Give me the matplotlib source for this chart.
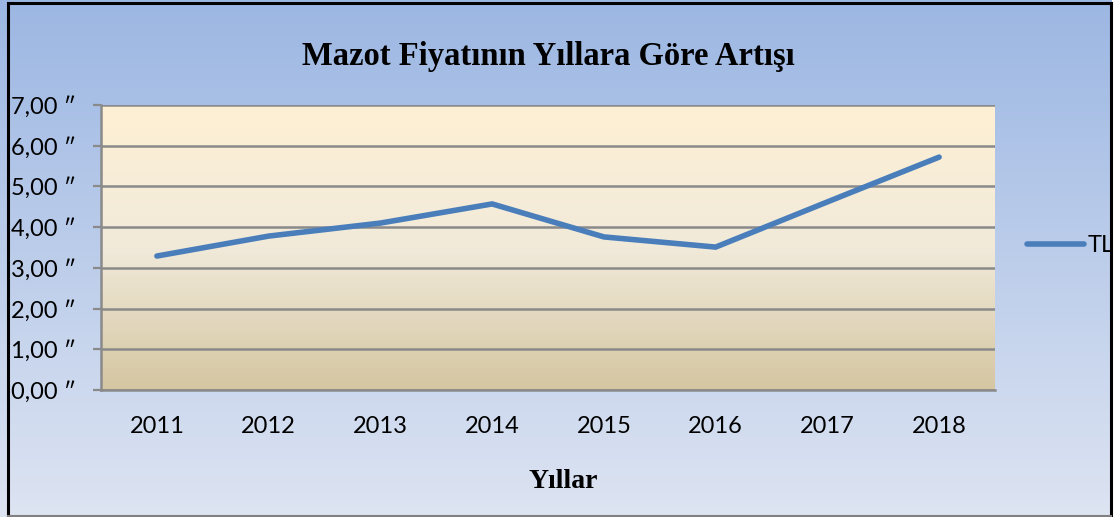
import numpy as np
import matplotlib
matplotlib.use('Agg')
import matplotlib.pyplot as plt
from matplotlib.colors import LinearSegmentedColormap
from matplotlib.lines import Line2D

# data
years = ['2011', '2012', '2013', '2014', '2015', '2016', '2017', '2018']
tl_prices = [3.29, 3.78, 4.10, 4.57, 3.76, 3.51, 4.62, 5.72]
y_ticks = [0, 1, 2, 3, 4, 5, 6, 7]

title = 'Mazot Fiyatının Yıllara Göre Artışı'
x_title = 'Yıllar'
series_name = 'TL'

tick_font = ['Lato', 'DejaVu Sans']
serif_font = ['Liberation Serif', 'DejaVu Serif']

fig = plt.figure(figsize=(11.15, 5.17), dpi=100)

# figure background gradient (blue at top, pale at bottom)
bg = fig.add_axes([0, 0, 1, 1], zorder=-10)
bg_cmap = LinearSegmentedColormap.from_list('bg', ['#9cb7e3', '#dde4f2'])
bg.imshow(np.linspace(0, 1, 256).reshape(-1, 1), aspect='auto', cmap=bg_cmap,
          extent=[0, 1, 0, 1], origin='upper')
bg.set_xlim(0, 1)
bg.set_ylim(0, 1)
bg.axis('off')

W, H = 1115, 517

ax = fig.add_axes([101 / W, 1 - 390 / H, (995 - 101) / W, (390 - 105) / H])
x = np.arange(len(years))

# plot area gradient
pa_cmap = LinearSegmentedColormap.from_list('pa', ['#fef0d4', '#f1eada', '#d5c6a2'])
ax.imshow(np.linspace(0, 1, 256).reshape(-1, 1), aspect='auto', cmap=pa_cmap,
          extent=[-0.5, len(years) - 0.5, 0, 7], origin='upper', zorder=0)

ax.plot(x, tl_prices, color='#4a7ebb', lw=4, solid_capstyle='round',
        solid_joinstyle='miter', label=series_name, zorder=3)

ax.set_xlim(-0.5, len(years) - 0.5)
ax.set_ylim(0, 7)
ax.set_yticks(y_ticks)
ax.set_yticklabels([f'{v:.2f}'.replace('.', ',') + ' \u2033' for v in y_ticks],
                   family=tick_font, fontsize=17)
ax.set_xticks(x)
ax.set_xticklabels(years, family=tick_font, fontsize=17)
ax.tick_params(axis='x', length=0, pad=19)
ax.tick_params(axis='y', length=6, width=1.6, color='#8a8a8a', pad=12)
ax.grid(axis='y', color='#8a8a8a', lw=1.8, zorder=1)
ax.set_axisbelow(False)
for side in ['top', 'right']:
    ax.spines[side].set_visible(False)
for side in ['left', 'bottom']:
    ax.spines[side].set_color('#8a8a8a')
    ax.spines[side].set_linewidth(1.8)

fig.text(548 / W, 1 - 57 / H, title, family=serif_font, fontweight='bold',
         fontsize=23.5, ha='center', va='center')
fig.text(563 / W, 1 - 482 / H, x_title, family=serif_font, fontweight='bold',
         fontsize=20, ha='center', va='center')

leg = ax.legend(loc='center left', bbox_to_anchor=(1027 / W, 1 - 246 / H),
                bbox_transform=fig.transFigure, frameon=False,
                prop={'family': tick_font, 'size': 17},
                handlelength=2.4, handletextpad=0.15, borderpad=0, borderaxespad=0)

# chart border, drawn on top so it clips the legend text like the original
top = fig.add_axes([0, 0, 1, 1], zorder=10)
top.set_xlim(0, 1)
top.set_ylim(0, 1)
top.axis('off')
top.patch.set_alpha(0)
top.add_line(Line2D([8 / W, 8 / W], [0, 1 - 3 / H], color='black', lw=2.2))
top.add_line(Line2D([1111 / W, 1111 / W], [0, 1 - 3 / H], color='black', lw=2.2))
top.add_line(Line2D([8 / W, 1111 / W], [1 - 3 / H, 1 - 3 / H], color='black', lw=2.2))
top.add_line(Line2D([8 / W, 1111 / W], [1 / H, 1 / H], color='#808080', lw=1.5))
top.add_patch(plt.Rectangle((1112 / W, 0), 3 / W, 1, color='white', lw=0))

fig.savefig('out.png', dpi=100)
